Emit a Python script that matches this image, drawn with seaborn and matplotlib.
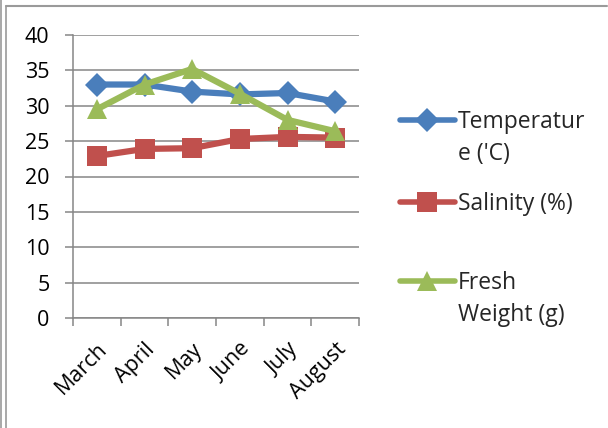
import matplotlib
matplotlib.use("Agg")
import matplotlib.pyplot as plt
from matplotlib.lines import Line2D
import seaborn as sns
import pandas as pd

# Monthly measurements
months = ["March", "April", "May", "June", "July", "August"]
temperature = [33.0, 33.0, 32.0, 31.6, 31.8, 30.6]
salinity = [22.9, 23.9, 24.0, 25.3, 25.6, 25.5]
fresh_weight = [29.5, 33.0, 35.2, 31.7, 28.0, 26.4]

series_names = ["Temperature ('C)", "Salinity (%)", "Fresh Weight (g)"]
legend_first = ["Temperatur", "Salinity (%)", "Fresh"]
legend_second = ["e ('C)", "", "Weight (g)"]
colors = ["#4A7EBB", "#C0504D", "#9BBB59"]
markers = ["D", "s", "^"]
marker_sizes = [12, 14, 15]
yticks = [0, 5, 10, 15, 20, 25, 30, 35, 40]

df = pd.DataFrame({
    "Month": months * 3,
    "Value": temperature + salinity + fresh_weight,
    "Series": sum([[n] * len(months) for n in series_names], []),
})

sns.set_theme(style="white")
plt.rcParams["font.family"] = ["Open Sans", "DejaVu Sans"]

W, H = 608, 428
fig = plt.figure(figsize=(W / 100, H / 100), dpi=100)
ax = fig.add_axes([73 / W, 1 - 318 / H, (359 - 73) / W, (318 - 35) / H])

line_w = 4.5
sns.lineplot(
    data=df, x="Month", y="Value", hue="Series", style="Series",
    palette=colors, markers=markers, dashes=False, sort=False,
    linewidth=line_w, markeredgewidth=0, legend=False, ax=ax, zorder=3,
)
for line, ms in zip(ax.get_lines(), marker_sizes):
    line.set_markersize(ms)

grid_color = "#868686"
tick_fs = 15.5
ax.set_xlim(-0.5, len(months) - 0.5)
ax.set_ylim(0, 40)
ax.set_yticks(yticks)
ax.set_yticklabels([str(v) for v in yticks])
ax.yaxis.grid(True, color=grid_color, linewidth=1.1)
ax.set_axisbelow(True)
ax.set_xlabel("")
ax.set_ylabel("")

ax.set_xticks(range(len(months)))
ax.set_xticklabels(months, rotation=45, ha="right", rotation_mode="anchor")
ax.set_xticks([i - 0.5 for i in range(len(months) + 1)], minor=True)
ax.tick_params(axis="x", which="major", length=0, pad=15, labelsize=tick_fs, labelcolor="black")
ax.tick_params(axis="x", which="minor", length=6, width=1.1, color=grid_color, direction="out", bottom=True)
ax.tick_params(axis="y", length=6, width=1.1, color=grid_color, direction="out", left=True,
               pad=11, labelsize=tick_fs, labelcolor="black")

for side in ["top", "right"]:
    ax.spines[side].set_visible(False)
for side in ["left", "bottom"]:
    ax.spines[side].set_color(grid_color)
    ax.spines[side].set_linewidth(1.1)

# Legend drawn in figure pixel coordinates
def fx(px):
    return px / W

def fy(py):
    return 1 - py / H

legend_fs = 16.5
legend_rows = [120, 202, 281]
for col, mk, ms, first, second, yrow in zip(colors, markers, marker_sizes,
                                             legend_first, legend_second, legend_rows):
    fig.add_artist(Line2D([fx(400), fx(455)], [fy(yrow), fy(yrow)], color=col,
                          linewidth=4.0, solid_capstyle="round"))
    fig.add_artist(Line2D([fx(427)], [fy(yrow)], color=col, marker=mk,
                          markersize=ms, markeredgewidth=0, linestyle="none"))
    fig.text(fx(458), fy(yrow + 2), first, fontsize=legend_fs, va="center", ha="left")
    if second:
        fig.text(fx(458), fy(yrow + 34), second, fontsize=legend_fs, va="center", ha="left")

# Outer frame
frame_color = "#9A9A9A"
fig.add_artist(Line2D([fx(1), fx(1)], [0, 1], color=frame_color, linewidth=1.2))
fig.add_artist(Line2D([fx(5.5), fx(5.5)], [0, fy(5.5)], color=frame_color, linewidth=1.2))
fig.add_artist(Line2D([fx(5.5), fx(607)], [fy(5.5), fy(5.5)], color=frame_color, linewidth=1.5))

fig.savefig("out.png", dpi=100)
